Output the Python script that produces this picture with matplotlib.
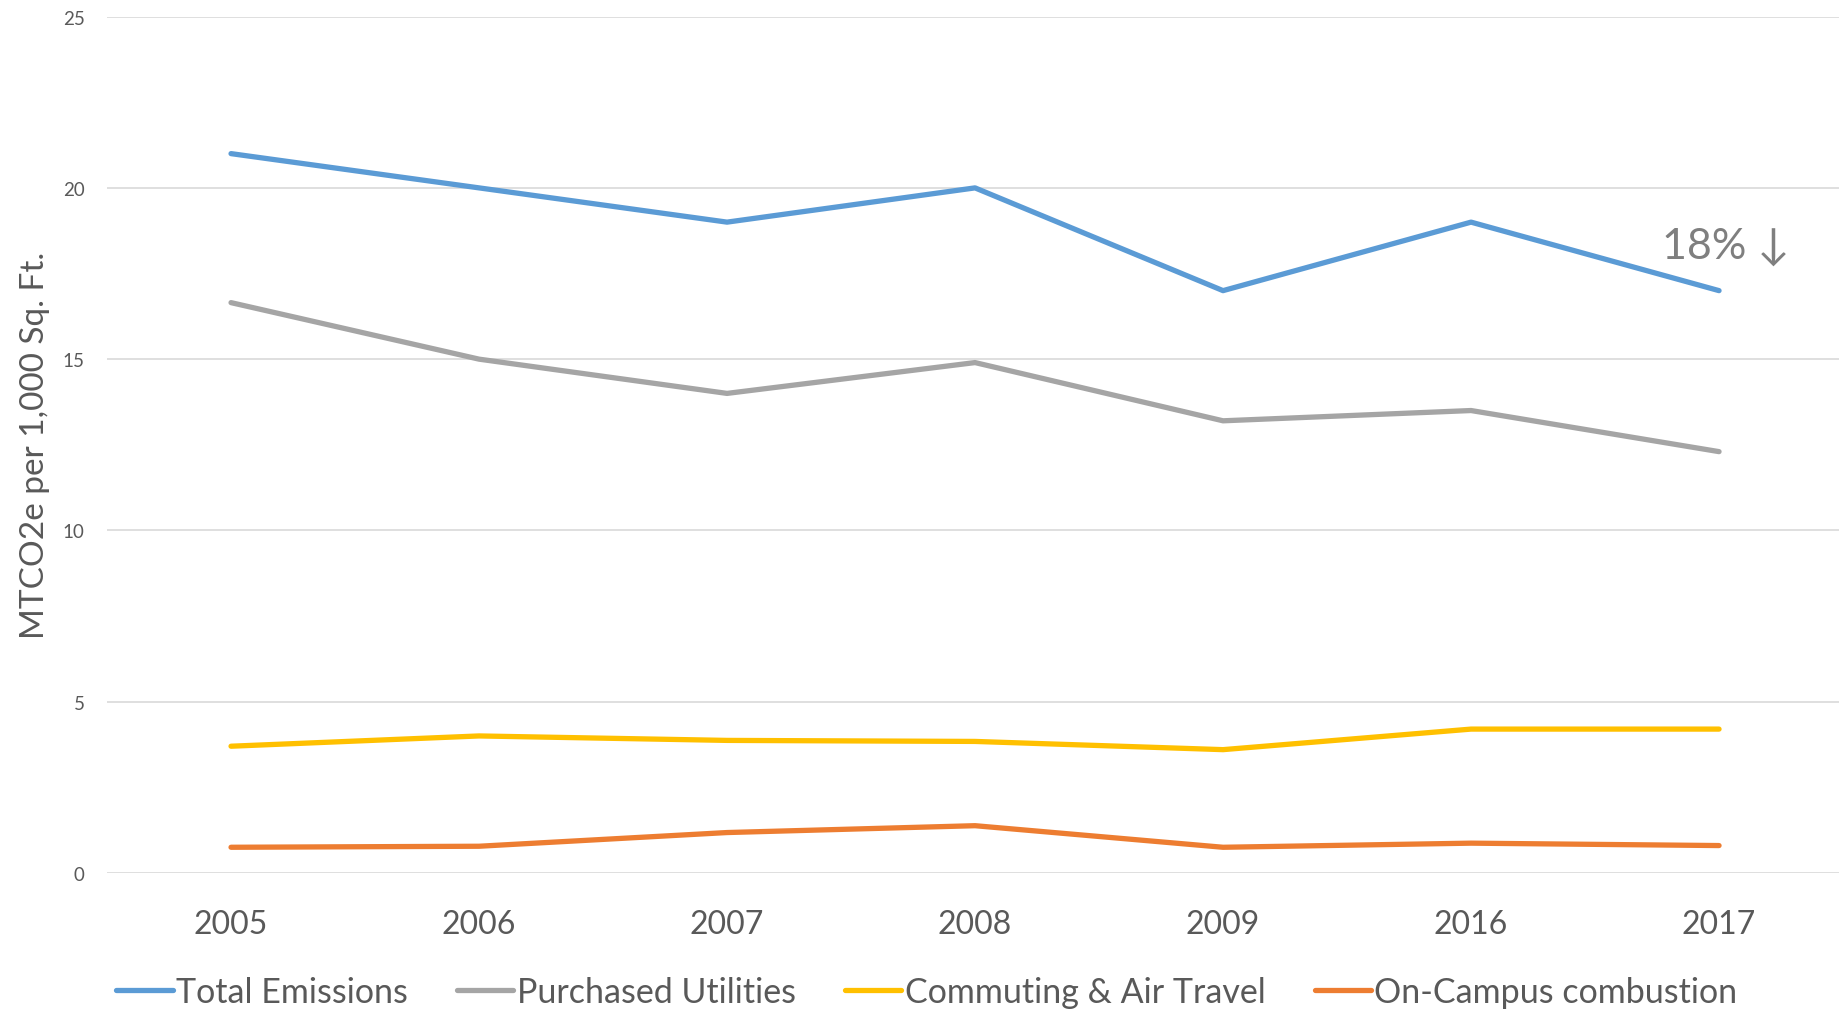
import matplotlib.pyplot as plt
from matplotlib.lines import Line2D

years = ["2005", "2006", "2007", "2008", "2009", "2016", "2017"]
total = [21.0, 20.0, 19.0, 20.0, 17.0, 19.0, 17.0]
utilities = [16.65, 15.0, 14.0, 14.9, 13.2, 13.5, 12.3]
commuting = [3.7, 4.0, 3.87, 3.84, 3.6, 4.2, 4.2]
combustion = [0.75, 0.78, 1.18, 1.38, 0.75, 0.87, 0.8]

names = ["Total Emissions", "Purchased Utilities", "Commuting & Air Travel", "On-Campus combustion"]
colors = ["#5B9BD5", "#A5A5A5", "#FFC000", "#ED7D31"]

plt.rcParams['font.family'] = ['Lato', 'DejaVu Sans']

fig = plt.figure(figsize=(18.39, 10.12), dpi=100)
ax = fig.add_axes([0.0582, 0.1364, 0.944, 0.8462])

x = range(len(years))
for series, c in zip([total, utilities, commuting, combustion], colors):
    ax.plot(x, series, color=c, lw=3.8, solid_capstyle='round', solid_joinstyle='round')

ax.set_xlim(-0.5, 6.5)
ax.set_ylim(0, 25)
ax.set_yticks([0, 5, 10, 15, 20, 25])
ax.set_xticks(list(x))
ax.set_xticklabels(years)
ax.grid(axis='y', color='#D9D9D9', lw=1.2)
ax.set_axisbelow(True)
for s in ax.spines.values():
    s.set_visible(False)
ax.tick_params(axis='y', length=0, labelsize=13.5, labelcolor='#595959', pad=16)
ax.tick_params(axis='x', length=0, labelsize=23, labelcolor='#595959', pad=26)
ax.set_ylabel("MTCO2e per 1,000 Sq. Ft.", fontsize=24, color='#595959', labelpad=9)

# percentage drop note next to the last point
ax.text(5.77, 18.3, "18% \u2193", fontsize=31, color='#7F7F7F', va='center', ha='left')

handles = [Line2D([0], [0], color=c, lw=3.8, solid_capstyle='round') for c in colors]
fig.legend(handles, names, loc='center', bbox_to_anchor=(0.504, 0.019), ncol=4,
           frameon=False, fontsize=24.5, labelcolor='#595959', handlelength=1.65,
           handletextpad=0.1, columnspacing=1.45)

fig.savefig("out.png", dpi=100)
